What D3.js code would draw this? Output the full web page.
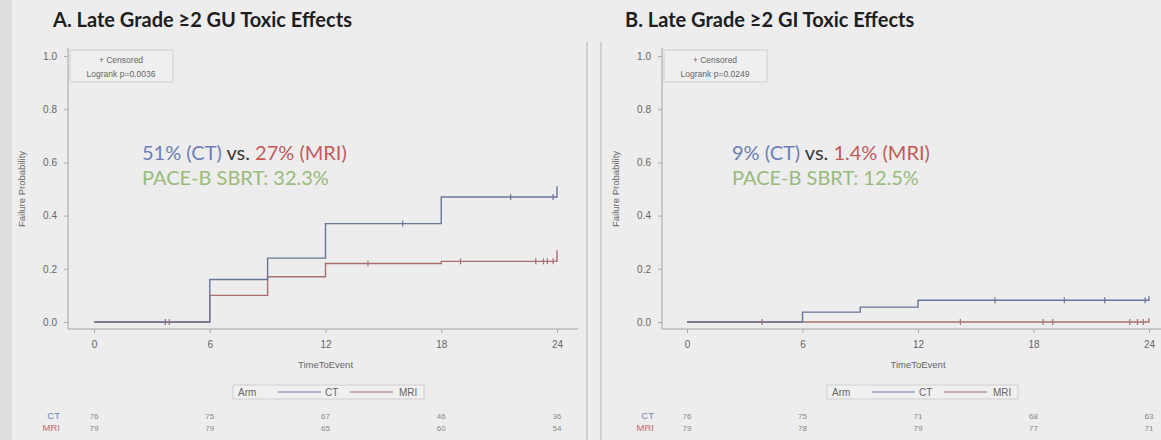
<!DOCTYPE html>
<html>
<head>
<meta charset="utf-8">
<script src="https://cdn.jsdelivr.net/npm/d3@7"></script>
<style>
  body { margin: 0; background: #ededed; }
  svg { display: block; }
  .tick text { font-family: "Liberation Sans", Arial, sans-serif; font-size: 10px; fill: #666; }
  .tick line { stroke: #aaa; }
</style>
</head>
<body>
<script>
// time ticks (months) and y ticks
var monthTicks = [0, 6, 12, 18, 24];
var probTicks = [0, 0.2, 0.4, 0.6, 0.8, 1.0];

// step curves: [month, failure probability]
var guCT  = [[0, 0], [6, 0.16], [9, 0.24], [12, 0.37], [18, 0.47], [24, 0.51]];
var guMRI = [[0, 0], [6, 0.10], [9, 0.17], [12, 0.22], [18, 0.228], [24, 0.27]];
var giCT  = [[0, 0], [6, 0.037], [9, 0.056], [12, 0.082], [24, 0.097]];
var giMRI = [[0, 0], [24, 0.014]];

// censored times
var guCTCens  = [3.7, 16.0, 21.6, 23.8];
var guMRICens = [3.9, 14.2, 19.0, 22.9, 23.3, 23.5, 23.8];
var giCTCens  = [16.0, 19.6, 21.7, 23.8];
var giMRICens = [3.9, 14.2, 18.5, 19.0, 23.0, 23.4, 23.7];

// number at risk
var guCTRisk  = [76, 75, 67, 46, 36];
var guMRIRisk = [79, 79, 65, 60, 54];
var giCTRisk  = [76, 75, 71, 68, 63];
var giMRIRisk = [79, 78, 79, 77, 71];

var W = 1161, H = 440;
var ctLine = "#6a7699", mriLine = "#a67070";

var svg = d3.select("body").append("svg").attr("width", W).attr("height", H);
svg.append("rect").attr("width", W).attr("height", H).attr("fill", "#ededed");
svg.append("rect").attr("width", 12).attr("height", H).attr("fill", "#dedede");

// separator between panels
svg.append("line").attr("x1", 587).attr("x2", 587).attr("y1", 42).attr("y2", H).attr("stroke", "#c4c4c4").attr("stroke-width", 1.5);
svg.append("line").attr("x1", 601).attr("x2", 601).attr("y1", 42).attr("y2", H).attr("stroke", "#c4c4c4").attr("stroke-width", 1.5);

var panels = [
  { title: "A. Late Grade \u22652 GU Toxic Effects", titleX: 53, axisX: 68, x0: 94, x1: 557, right: 578,
    ct: guCT, mri: guMRI, ctC: guCTCens, mriC: guMRICens, ctR: guCTRisk, mriR: guMRIRisk,
    p: "Logrank p=0.0036", a1: "51%", a2: "27%", pace: "PACE-B SBRT: 32.3%", annX: 142,
    legX: 233 },
  { title: "B. Late Grade \u22652 GI Toxic Effects", titleX: 625, axisX: 662, x0: 687, x1: 1149, right: 1161,
    ct: giCT, mri: giMRI, ctC: giCTCens, mriC: giMRICens, ctR: giCTRisk, mriR: giMRIRisk,
    p: "Logrank p=0.0249", a1: "9%", a2: "1.4%", pace: "PACE-B SBRT: 12.5%", annX: 732,
    legX: 827 }
];

var y = d3.scaleLinear().domain([0, 1]).range([322, 56]);
var lf = "Liberation Sans, Arial, sans-serif";

panels.forEach(function(P) {
  var g = svg.append("g");
  var x = d3.scaleLinear().domain([0, 24]).range([P.x0, P.x1]);

  g.append("text").attr("x", P.titleX).attr("y", 27)
    .attr("font-family", "Lato, 'Open Sans', sans-serif").attr("font-weight", "bold")
    .attr("font-size", 20).attr("fill", "#1e1e1e").text(P.title);

  // axes
  var yAx = g.append("g").attr("transform", "translate(" + P.axisX + ",0)")
    .call(d3.axisLeft(y).tickValues(probTicks).tickFormat(d3.format(".1f")).tickSize(4).tickPadding(7));
  yAx.select(".domain").remove();
  g.append("line").attr("x1", P.axisX).attr("x2", P.axisX).attr("y1", 48).attr("y2", 329)
    .attr("stroke", "#bbb").attr("stroke-width", 1.5);

  var xAx = g.append("g").attr("transform", "translate(0,329)")
    .call(d3.axisBottom(x).tickValues(monthTicks).tickSize(4).tickPadding(8));
  xAx.select(".domain").remove();
  g.append("line").attr("x1", P.axisX).attr("x2", P.right).attr("y1", 329).attr("y2", 329)
    .attr("stroke", "#bbb").attr("stroke-width", 1.5);

  g.append("text").attr("transform", "translate(" + (P.axisX - 43) + ",189) rotate(-90)")
    .attr("text-anchor", "middle").attr("font-family", lf)
    .attr("font-size", 9.5).attr("fill", "#666").text("Failure Probability");

  g.append("text").attr("x", (P.x0 + P.x1) / 2).attr("y", 368).attr("text-anchor", "middle")
    .attr("font-family", lf).attr("font-size", 9.5)
    .attr("fill", "#666").text("TimeToEvent");

  // inset legend
  g.append("rect").attr("x", P.axisX + 2).attr("y", 50).attr("width", 103).attr("height", 32)
    .attr("fill", "#efefef").attr("stroke", "#cfcfcf");
  g.append("text").attr("x", P.axisX + 53).attr("y", 63).attr("text-anchor", "middle")
    .attr("font-family", lf).attr("font-size", 8.5).attr("fill", "#666")
    .text("+ Censored");
  g.append("text").attr("x", P.axisX + 53).attr("y", 77).attr("text-anchor", "middle")
    .attr("font-family", lf).attr("font-size", 8.5).attr("fill", "#666")
    .text(P.p);

  // curves
  var line = d3.line().x(function(d) { return x(d[0]); }).y(function(d) { return y(d[1]); })
    .curve(d3.curveStepAfter);
  g.append("path").datum(P.mri).attr("d", line).attr("fill", "none").attr("stroke", mriLine).attr("stroke-width", 1.4);
  g.append("path").datum(P.ct).attr("d", line).attr("fill", "none").attr("stroke", ctLine).attr("stroke-width", 1.4);

  // censor marks
  function probAt(curve, t) {
    var v = 0;
    curve.forEach(function(d) { if (d[0] <= t && d[0] < 24) v = d[1]; });
    return v;
  }
  [[P.ct, P.ctC, ctLine], [P.mri, P.mriC, mriLine]].forEach(function(s) {
    g.selectAll(null).data(s[1]).enter().append("line")
      .attr("x1", function(d) { return x(d); }).attr("x2", function(d) { return x(d); })
      .attr("y1", function(d) { return y(probAt(s[0], d)) - 3; })
      .attr("y2", function(d) { return y(probAt(s[0], d)) + 3; })
      .attr("stroke", s[2]).attr("stroke-width", 1.2);
  });

  // annotations
  var ann = g.append("text").attr("x", P.annX).attr("y", 160)
    .attr("font-family", "Lato, 'Open Sans', sans-serif").attr("font-size", 20);
  ann.append("tspan").attr("fill", "#6c80b6").text(P.a1 + " (CT) ");
  ann.append("tspan").attr("fill", "#3a3a3a").text("vs. ");
  ann.append("tspan").attr("fill", "#c25a5a").text(P.a2 + " (MRI)");
  g.append("text").attr("x", P.annX).attr("y", 185)
    .attr("font-family", "Lato, 'Open Sans', sans-serif").attr("font-size", 20)
    .attr("fill", "#99bb7c").text(P.pace);

  // bottom legend
  var lg = g.append("g").attr("transform", "translate(" + P.legX + ",385)");
  lg.append("rect").attr("width", 191).attr("height", 14).attr("fill", "#f0f0f0").attr("stroke", "#cfcfcf");
  lg.append("text").attr("x", 5).attr("y", 11).attr("font-family", lf).attr("font-size", 10).attr("fill", "#666").text("Arm");
  lg.append("line").attr("x1", 45).attr("x2", 88).attr("y1", 7).attr("y2", 7).attr("stroke", ctLine);
  lg.append("text").attr("x", 92).attr("y", 11).attr("font-family", lf).attr("font-size", 10).attr("fill", "#666").text("CT");
  lg.append("line").attr("x1", 117).attr("x2", 160).attr("y1", 7).attr("y2", 7).attr("stroke", mriLine);
  lg.append("text").attr("x", 166).attr("y", 11).attr("font-family", lf).attr("font-size", 10).attr("fill", "#666").text("MRI");

  // at-risk table
  g.append("text").attr("x", P.axisX - 8).attr("y", 419).attr("text-anchor", "end")
    .attr("font-family", lf).attr("font-size", 9.5).attr("fill", "#7484b8").text("CT");
  g.append("text").attr("x", P.axisX - 8).attr("y", 431).attr("text-anchor", "end")
    .attr("font-family", lf).attr("font-size", 9.5).attr("fill", "#c86a6a").text("MRI");
  g.selectAll(null).data(P.ctR).enter().append("text")
    .attr("x", function(d, i) { return x(monthTicks[i]); }).attr("y", 419).attr("text-anchor", "middle")
    .attr("font-family", lf).attr("font-size", 8).attr("fill", "#888").text(function(d) { return d; });
  g.selectAll(null).data(P.mriR).enter().append("text")
    .attr("x", function(d, i) { return x(monthTicks[i]); }).attr("y", 431).attr("text-anchor", "middle")
    .attr("font-family", lf).attr("font-size", 8).attr("fill", "#888").text(function(d) { return d; });
});
</script>
</body>
</html>
